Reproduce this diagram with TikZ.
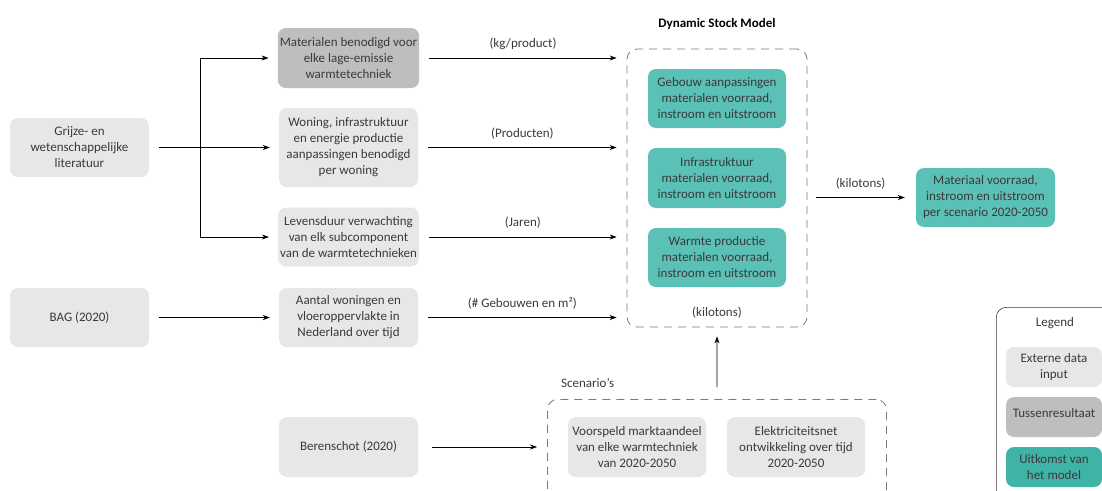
\documentclass[tikz,border=0pt]{standalone}
\usepackage{fontspec}
\setmainfont{Carlito}
\usetikzlibrary{arrows.meta,calc}
\definecolor{lgray}{HTML}{E6E7E8}
\definecolor{dgray}{HTML}{BEBEBE}
\definecolor{teal1}{HTML}{5BC0B5}
\definecolor{teal2}{HTML}{3FB3A6}
\definecolor{txt}{HTML}{3A3A3A}
\definecolor{dashc}{HTML}{7A7A7A}
\tikzset{
  basebox/.style={rounded corners=8pt, align=center, text=txt, inner sep=2pt,
    font=\fontsize{13}{16}\selectfont},
  extbox/.style={basebox, fill=lgray},
  midbox/.style={basebox, fill=dgray},
  outbox/.style={basebox, fill=teal1},
  arr/.style={draw=black, line width=0.7pt, -{Stealth[length=7pt,width=5pt]}},
  dbox/.style={draw=dashc, line width=0.8pt, dash pattern=on 8pt off 6pt, rounded corners=10pt},
  lbl/.style={text=txt, font=\fontsize{13}{16}\selectfont, inner sep=0pt},
}
\begin{document}
\begin{tikzpicture}[x=1pt,y=-1pt]
\clip (0,0) rectangle (1102,490);
\fill[white] (0,0) rectangle (1102,490);
% left column
\node[extbox, minimum width=139, minimum height=59] (grijze) at (79.5,147.5) {Grijze- en\\wetenschappelijke\\literatuur};
\node[extbox, minimum width=139, minimum height=59] (bag) at (79.5,317.5) {BAG (2020)};
% middle column
\node[midbox, minimum width=139, minimum height=60] (mat) at (348.5,58) {Materialen benodigd voor\\elke lage-emissie\\warmtetechniek};
\node[extbox, minimum width=139, minimum height=79] (won) at (348.5,147.5) {Woning, infrastruktuur\\en energie productie\\aanpassingen benodigd\\per woning};
\node[extbox, minimum width=139, minimum height=59] (lev) at (348.5,237) {Levensduur verwachting\\van elk subcomponent\\van de warmtetechnieken};
\node[extbox, minimum width=139, minimum height=59] (aan) at (348.5,317.5) {Aantal woningen en\\vloeroppervlakte in\\Nederland over tijd};
\node[extbox, minimum width=139, minimum height=60] (ber) at (348.5,447) {Berenschot (2020)};
% dynamic stock model
\node[dbox, minimum width=180, minimum height=278] (dsm) at (717,188) {};
\node[lbl, font=\fontsize{13}{15}\selectfont\bfseries, text=black] (dsmt) at (717,24) {Dynamic Stock Model};
\node[outbox, minimum width=138, minimum height=59] (t1) at (717,98.5) {Gebouw aanpassingen\\materialen voorraad,\\instroom en uitstroom};
\node[outbox, minimum width=138, minimum height=60] (t2) at (717,178) {Infrastruktuur\\materialen voorraad,\\instroom en uitstroom};
\node[outbox, minimum width=138, minimum height=59] (t3) at (717,257.5) {Warmte productie\\materialen voorraad,\\instroom en uitstroom};
\node[lbl] (kt) at (717,313) {(kilotons)};
% scenarios
\node[dbox, minimum width=339, minimum height=110, anchor=north west] (scen) at (547,399) {};
\node[lbl, anchor=west] (scent) at (561,383) {Scenario’s};
\node[extbox, minimum width=138, minimum height=60] (voor) at (637,447) {Voorspeld marktaandeel\\van elke warmtechniek\\van 2020-2050};
\node[extbox, minimum width=138, minimum height=60] (elek) at (796,447) {Elektriciteitsnet\\ontwikkeling over tijd\\2020-2050};
% output
\node[outbox, minimum width=139, minimum height=59] (mater) at (985.5,197.5) {Materiaal voorraad,\\instroom en uitstroom\\per scenario 2020-2050};
% legend
\node[draw=txt, line width=0.6pt, rounded corners=10pt, minimum width=130, minimum height=210, anchor=north west] (leg) at (996,307) {};
\node[lbl] (legt) at (1055,323) {Legend};
\node[extbox, minimum width=96, minimum height=40] (l1) at (1054,367) {Externe data\\input};
\node[midbox, minimum width=96, minimum height=40] (l2) at (1054,417) {Tussenresultaat\\[-8pt]~};
\node[basebox, fill=teal2, minimum width=96, minimum height=40] (l3) at (1054,467) {Uitkomst van\\het model};
% connectors
\coordinate (bx) at (200,0);
\coordinate (bt) at (bx |- mat.west);
\coordinate (bb) at (bx |- lev.west);
\draw[line width=0.7pt] (bt) -- (bb);
\draw[arr] ([xshift=10]grijze.east) -- ([xshift=-9]won.west);
\draw[arr] (bt) -- ([xshift=-9]mat.west);
\draw[arr] (bb) -- ([xshift=-9]lev.west);
\draw[arr] ([xshift=10]bag.east) -- ([xshift=-9]aan.west);
\draw[arr] ([xshift=10]mat.east) -- node[lbl, above=8pt] (l_kg) {(kg/product)} ($(dsm.west |- mat.east)+(-10,0)$);
\draw[arr] ([xshift=10]won.east) -- node[lbl, above=8pt] (l_pr) {(Producten)} ($(dsm.west |- won.east)+(-10,0)$);
\draw[arr] ([xshift=10]lev.east) -- node[lbl, above=8pt] (l_ja) {(Jaren)} ($(dsm.west |- lev.east)+(-10,0)$);
\draw[arr] ([xshift=10]aan.east) -- node[lbl, above=8pt] (l_ge) {(\# Gebouwen en m²)} ($(dsm.west |- aan.east)+(-10,0)$);
\draw[arr] ([xshift=14]ber.east) -- ($(scen.west |- ber.east)+(-10,0)$);
\draw[arr] ($(scen.north)+(0,-12)$) -- ($(dsm.south)+(0,9)$);
\draw[arr] ($(dsm.east |- mater.west)+(9,0)$) -- node[lbl, above=8pt] (l_kt) {(kilotons)} ([xshift=-11]mater.west);
\end{tikzpicture}
\end{document}
